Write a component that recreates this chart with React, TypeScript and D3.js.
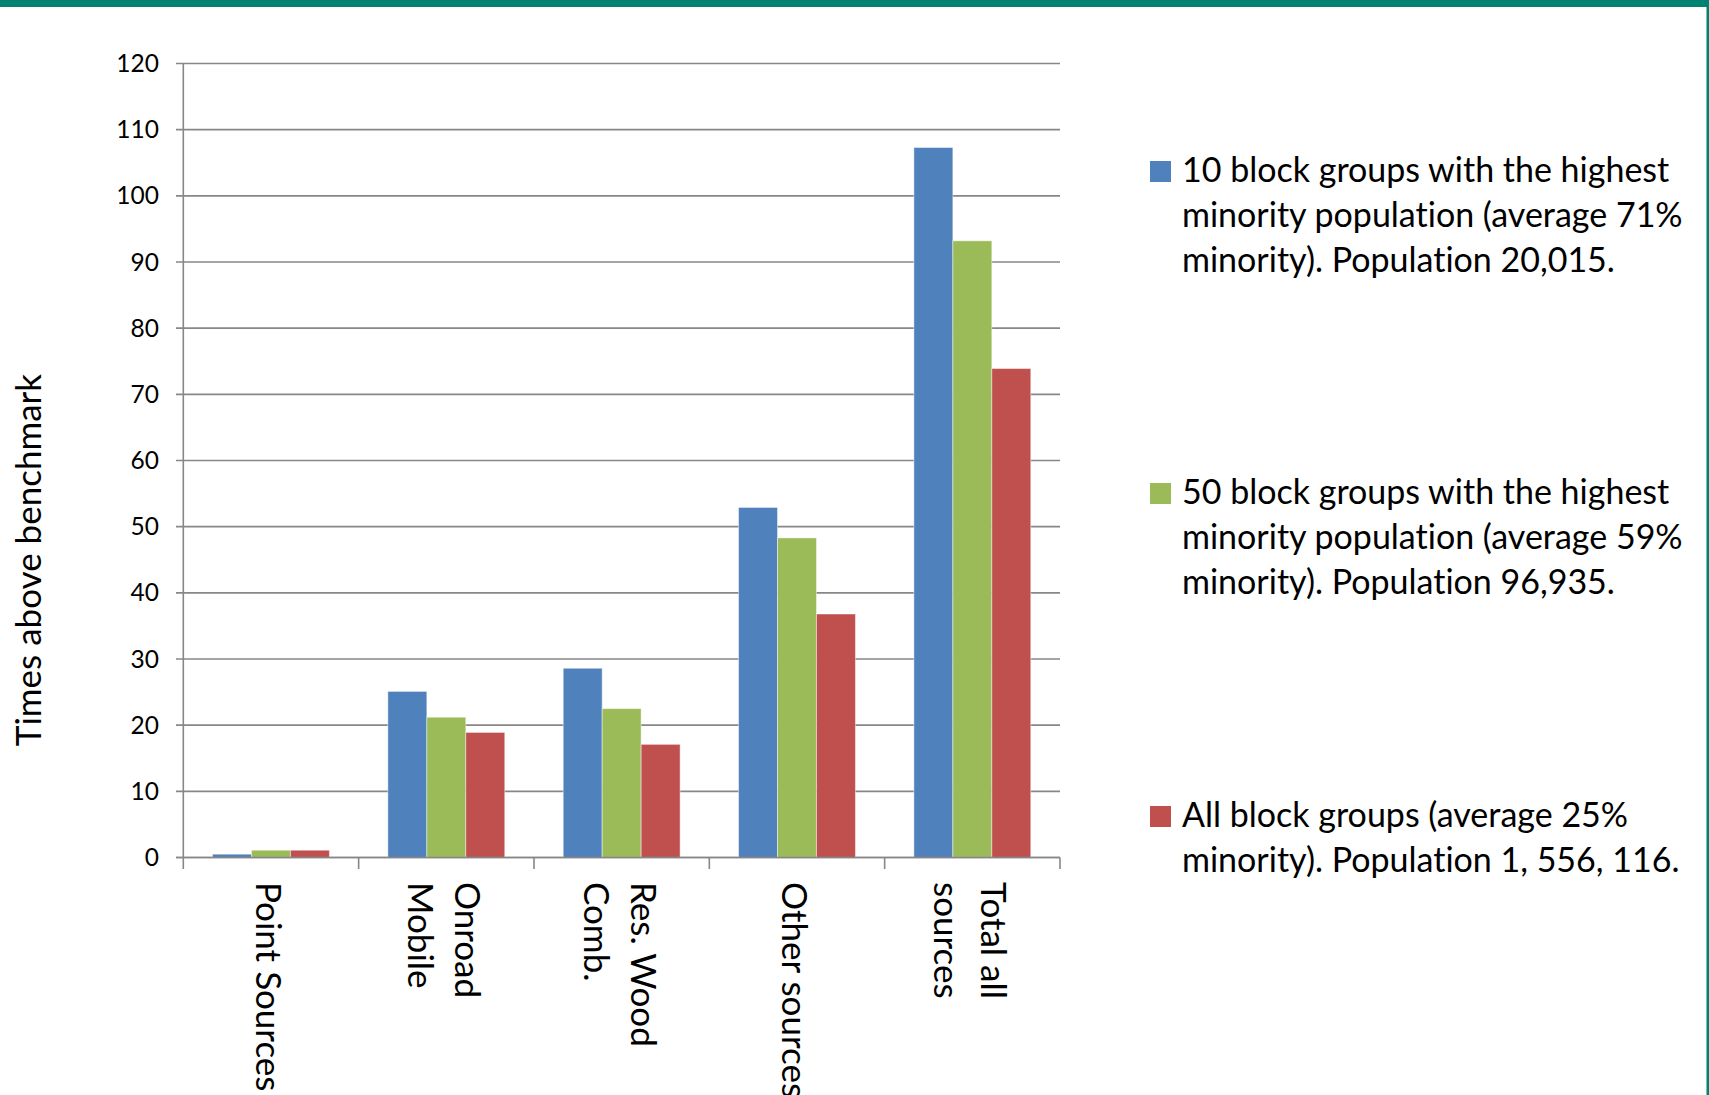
import React from "react";
import * as d3 from "d3";

const categories = ["Point Sources", "Onroad Mobile", "Res. Wood Comb.", "Other sources", "Total all sources"];
const categoryLines = [["Point Sources"], ["Onroad", "Mobile"], ["Res. Wood", "Comb."], ["Other sources"], ["Total all", "sources"]];
const seriesNames = ["top10", "top50", "all"];
const top10Values = [0.5, 25.1, 28.6, 52.9, 107.3];
const top50Values = [1.1, 21.2, 22.5, 48.3, 93.2];
const allValues = [1.1, 18.9, 17.1, 36.8, 73.9];
const seriesColors = ["#4F81BD", "#9BBB59", "#C0504D"];
const legendLines = [
  ["10 block groups with the highest", "minority population (average 71%", "minority). Population 20,015."],
  ["50 block groups with the highest", "minority population (average 59%", "minority). Population 96,935."],
  ["All block groups (average 25%", "minority). Population 1, 556, 116."],
];
const yTicks = [0, 10, 20, 30, 40, 50, 60, 70, 80, 90, 100, 110, 120];
const yTitle = "Times above benchmark";

const FONT = "Lato, 'Noto Sans', sans-serif";
const textStyle: React.CSSProperties = { fontVariantLigatures: "none", fontFeatureSettings: "'liga' 0, 'clig' 0" };

export default function App() {
  const W = 1709, H = 1095;
  const left = 183.3, right = 1060, top = 63.5, bottom = 857.5;
  const y = d3.scaleLinear().domain([0, 120]).range([bottom, top]);
  const x = d3.scaleBand<string>().domain(categories).range([left, right]).paddingInner(0).paddingOuter(0);
  const xs = d3.scaleBand<string>().domain(seriesNames).range([0, x.bandwidth()]).paddingInner(0).paddingOuter(0.75);
  const values = [top10Values, top50Values, allValues];
  const grid = "#878787";
  const teal = "#008272";

  const legendBase = [182, 504, 827];
  const lineGap = 45;

  return (
    <div style={{ position: "absolute", left: 0, top: 0, width: W, height: H }}>
      <svg width={W} height={H} style={{ display: "block", background: "#fff" }}>
        <rect x={0} y={0} width={W} height={7} fill={teal} />
        <rect x={1706.5} y={0} width={2.5} height={H} fill={teal} />

        {yTicks.map((t) => (
          <g key={t}>
            <line x1={176} x2={right} y1={y(t)} y2={y(t)} stroke={grid} strokeWidth={1.6} />
            <text x={159} y={y(t) + 8.5} textAnchor="end" fontFamily={FONT} fontSize={24.5} fill="#000" style={textStyle}>
              {t}
            </text>
          </g>
        ))}
        <line x1={left} x2={left} y1={top} y2={869} stroke={grid} strokeWidth={1.6} />
        {categories.map((c, i) => (
          <line key={"tk" + i} x1={(x(c) as number) + x.bandwidth()} x2={(x(c) as number) + x.bandwidth()} y1={bottom} y2={869} stroke={grid} strokeWidth={1.6} />
        ))}

        {seriesNames.map((s, si) =>
          categories.map((c, ci) => {
            const v = values[si][ci];
            const bx = (x(c) as number) + (xs(s) as number);
            return (
              <rect
                key={s + c}
                x={bx}
                y={y(v)}
                width={xs.bandwidth()}
                height={y(0) - y(v)}
                fill={seriesColors[si]}
                stroke="rgba(255,255,255,0.45)"
                strokeWidth={1}
              />
            );
          })
        )}
        <line x1={176} x2={right} y1={bottom} y2={bottom} stroke={grid} strokeWidth={1.6} />

        {categories.map((c, ci) => {
          const cx = (x(c) as number) + x.bandwidth() / 2;
          const lines = categoryLines[ci];
          const n = lines.length;
          return lines.map((ln, li) => {
            const bx = cx - 14.5 + ((n - 1) / 2 - li) * 47;
            return (
              <text
                key={c + li}
                transform={`translate(${bx},882) rotate(90)`}
                x={0}
                y={0}
                fontFamily={FONT}
                fontSize={35}
                fill="#000"
                style={textStyle}
              >
                {ln}
              </text>
            );
          });
        })}

        <text
          transform={`translate(41,560) rotate(-90)`}
          textAnchor="middle"
          fontFamily={FONT}
          fontSize={35}
          fill="#000"
          style={textStyle}
        >
          {yTitle}
        </text>

        {legendLines.map((lines, si) => (
          <g key={"lg" + si}>
            <rect x={1150} y={legendBase[si] - 21} width={21} height={21} fill={seriesColors[si]} />
            {lines.map((ln, li) => (
              <text key={li} x={1182} y={legendBase[si] + li * lineGap} fontFamily={FONT} fontSize={34} fill="#000" style={textStyle}>
                {ln}
              </text>
            ))}
          </g>
        ))}
      </svg>
    </div>
  );
}
